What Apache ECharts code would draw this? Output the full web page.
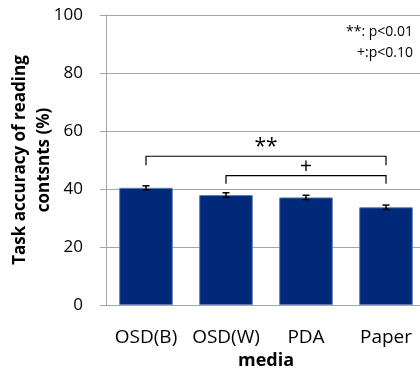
<!DOCTYPE html>
<html>
<head>
<meta charset="utf-8">
<script src="https://cdn.jsdelivr.net/npm/echarts@6/dist/echarts.min.js"></script>
<style>
html,body{margin:0;padding:0;background:#fff;}
#chart{width:420px;height:372px;}
</style>
</head>
<body>
<div id="chart"></div>
<script>
// media and task accuracy (%)
var categories = ['OSD(B)', 'OSD(W)', 'PDA', 'Paper'];
var accuracy = [40.4, 37.9, 37.1, 33.7];
var errors = [0.7, 0.8, 0.75, 0.75];

// significance brackets: from / to category index, bracket level, foot level
var sigFrom = [0, 1];
var sigTo = [3, 3];
var sigLevel = [51.3, 44.6];
var sigFoot = [48.2, 41.8];
var sigLabels = ['**', '+'];

var legendLines = ['**: p<0.01', '+:p<0.10'];

var FONT = '"Open Sans", sans-serif';
var GRAY = '#a6a6a6';

var errData = accuracy.map(function (v, i) { return [i, v - errors[i], v + errors[i]]; });
var sigData = sigFrom.map(function (f, i) { return [f, sigTo[i], sigLevel[i], sigFoot[i], i]; });

var myChart = echarts.init(document.getElementById('chart'));
var option = {
	animation: false,
	grid: {left: 106, top: 15, width: 320, bottom: 67, containLabel: false, outerBoundsMode: 'none'},
	xAxis: {
		type: 'category',
		data: categories,
		name: 'media',
		nameLocation: 'middle',
		nameGap: 47,
		nameMoveOverlap: false,
		nameTextStyle: {fontFamily: FONT, fontWeight: 'bold', fontSize: 18, color: '#000'},
		axisLine: {lineStyle: {color: GRAY, width: 1}},
		axisTick: {length: 6, lineStyle: {color: GRAY}},
		axisLabel: {interval: 0, margin: 23, fontFamily: FONT, fontSize: 19, color: '#000'}
	},
	yAxis: {
		type: 'value',
		min: 0, max: 100, interval: 20,
		name: 'Task accuracy of reading\ncontsnts (%)',
		nameLocation: 'middle',
		nameGap: 50,
		nameMoveOverlap: false,
		nameTextStyle: {fontFamily: FONT, fontWeight: 'bold', fontSize: 17, color: '#000', lineHeight: 24},
		axisLine: {show: true, lineStyle: {color: GRAY, width: 1}},
		axisTick: {show: true, length: 6, lineStyle: {color: GRAY}},
		axisLabel: {margin: 23, fontFamily: FONT, fontSize: 17, color: '#000'},
		splitLine: {lineStyle: {color: GRAY, width: 1}}
	},
	graphic: legendLines.map(function (t, i) {
		return {type: 'text', right: 7, top: 25 + i * 21,
			style: {text: t, fontFamily: FONT, fontSize: 14, fill: '#000', textAlign: 'right'}};
	}),
	series: [{
		type: 'bar',
		data: accuracy,
		barWidth: '67%',
		itemStyle: {color: '#00297a', borderColor: '#5a7db8', borderWidth: 1}
	}, {
		type: 'custom',
		data: errData,
		z: 10,
		renderItem: function (params, api) {
			var lo = api.coord([api.value(0), api.value(1)]);
			var hi = api.coord([api.value(0), api.value(2)]);
			var w = 3.5;
			var st = {stroke: '#000', lineWidth: 1.5};
			return {type: 'group', children: [
				{type: 'line', shape: {x1: lo[0], y1: lo[1], x2: hi[0], y2: hi[1]}, style: st},
				{type: 'line', shape: {x1: lo[0] - w, y1: lo[1], x2: lo[0] + w, y2: lo[1]}, style: st},
				{type: 'line', shape: {x1: hi[0] - w, y1: hi[1], x2: hi[0] + w, y2: hi[1]}, style: st}
			]};
		}
	}, {
		type: 'custom',
		data: sigData,
		z: 10,
		renderItem: function (params, api) {
			var a = api.coord([api.value(0), api.value(3)]);
			var b = api.coord([api.value(0), api.value(2)]);
			var c = api.coord([api.value(1), api.value(2)]);
			var d = api.coord([api.value(1), api.value(3)]);
			var lbl = sigLabels[api.value(4)];
			return {type: 'group', children: [
				{type: 'polyline', shape: {points: [a, b, c, d]}, style: {stroke: '#000', lineWidth: 1.2, fill: null}},
				{type: 'text', x: (b[0] + c[0]) / 2, y: b[1] - 9,
					style: {text: lbl, fontFamily: FONT, fontSize: 21, fill: '#000', textAlign: 'center', textVerticalAlign: 'middle'}}
			]};
		}
	}]
};
myChart.setOption(option);
</script>
</body>
</html>
